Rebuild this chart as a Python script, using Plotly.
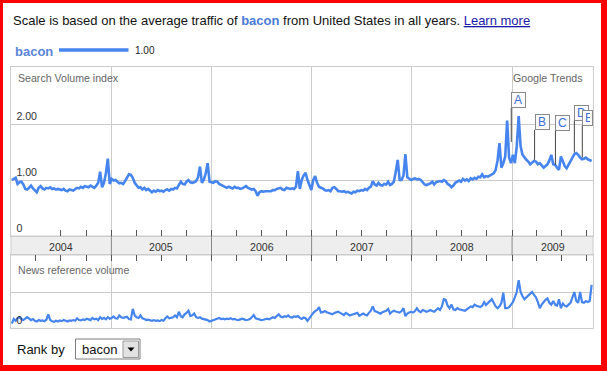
import plotly.graph_objects as go
import pandas as pd

# ---------------- data ----------------
term = "bacon"
legend_value = "1.00"
years = [2004, 2005, 2006, 2007, 2008, 2009]
axis_start = "2004-01-01"
axis_end = "2009-10-23"
first_week = "2004-01-04"

search_2004 = [1.00, 1.02, 1.04, 0.93, 0.96, 0.97, 0.92, 0.84, 0.83, 0.86, 0.90, 0.85, 0.82, 0.78,
               0.86, 0.89, 0.85, 0.83, 0.86, 0.85, 0.87, 0.84, 0.85, 0.83, 0.84, 0.83, 0.82, 0.84,
               0.81, 0.80, 0.83, 0.82, 0.81, 0.84, 0.86, 0.85, 0.88, 0.86, 0.89, 0.88, 0.87, 0.90,
               0.88, 0.86, 0.90, 0.95, 1.15, 0.87, 0.95, 1.12, 1.38, 0.93]
search_2005 = [1.02, 0.99, 1.00, 0.96, 0.94, 0.95, 0.93, 0.98, 1.05, 1.10, 1.09, 1.04, 0.95, 0.90,
               0.86, 0.87, 0.83, 0.86, 0.82, 0.84, 0.80, 0.78, 0.81, 0.79, 0.82, 0.80, 0.81, 0.79,
               0.82, 0.83, 0.81, 0.84, 0.83, 0.86, 0.85, 0.90, 0.97, 0.93, 0.92, 0.97, 1.00, 0.96,
               0.95, 0.96, 0.98, 1.05, 1.24, 0.95, 1.00, 1.12, 1.30, 0.97]
search_2006 = [0.96, 0.95, 0.98, 0.97, 0.93, 0.91, 0.89, 0.87, 0.86, 0.88, 0.87, 0.85, 0.88, 0.86,
               0.86, 0.84, 0.85, 0.87, 0.89, 0.86, 0.84, 0.83, 0.84, 0.80, 0.72, 0.78, 0.80, 0.79,
               0.80, 0.80, 0.81, 0.80, 0.82, 0.82, 0.84, 0.85, 0.86, 0.83, 0.82, 0.86, 0.85, 0.84,
               0.85, 0.84, 0.88, 1.16, 0.84, 1.00, 1.08, 1.13, 1.00, 0.90, 0.82]
search_2007 = [1.00, 1.07, 0.95, 0.88, 0.86, 0.85, 0.82, 0.81, 0.82, 0.80, 0.86, 0.87, 0.84, 0.80,
               0.80, 0.79, 0.80, 0.78, 0.79, 0.78, 0.76, 0.79, 0.78, 0.81, 0.80, 0.82, 0.81, 0.84,
               0.82, 0.86, 0.88, 0.98, 0.92, 0.90, 0.95, 0.91, 0.90, 0.93, 0.92, 0.97, 0.91, 0.93,
               0.97, 1.15, 1.36, 1.00, 1.00, 1.08, 1.46, 1.05, 1.02, 1.00]
search_2008 = [1.02, 1.03, 1.01, 1.02, 1.00, 0.95, 0.92, 0.91, 0.92, 0.94, 0.97, 0.92, 0.96, 0.97,
               0.98, 0.97, 1.00, 0.98, 0.93, 0.91, 0.87, 0.90, 0.95, 0.97, 0.99, 0.97, 1.02, 0.99,
               1.01, 0.98, 1.03, 1.01, 1.04, 1.02, 1.06, 1.05, 1.10, 1.05, 1.07, 1.06, 1.08, 1.10,
               1.12, 1.18, 1.35, 1.66, 1.22, 1.30, 1.42, 2.06, 1.40, 1.30]
search_2009 = [1.45, 1.30, 1.60, 2.14, 1.60, 1.45, 1.40, 1.36, 1.33, 1.28, 1.31, 1.34, 1.33, 1.28,
               1.30, 1.26, 1.22, 1.25, 1.28, 1.35, 1.45, 1.28, 1.27, 1.22, 1.18, 1.42, 1.33, 1.25,
               1.21, 1.28, 1.33, 1.40, 1.46, 1.48, 1.45, 1.40, 1.37, 1.38, 1.40, 1.37, 1.36, 1.34]

news_2004 = [0.12, 0.25, 0.20, 0.28, 0.30, 0.24, 0.22, 0.27, 0.30, 0.26, 0.22, 0.25, 0.20, 0.18,
             0.22, 0.20, 0.21, 0.19, 0.23, 0.38, 0.22, 0.19, 0.17, 0.20, 0.18, 0.21, 0.19, 0.22,
             0.20, 0.18, 0.21, 0.20, 0.22, 0.20, 0.27, 0.22, 0.21, 0.24, 0.22, 0.26, 0.24, 0.22,
             0.28, 0.24, 0.26, 0.22, 0.30, 0.25, 0.28, 0.24, 0.30, 0.26]
news_2005 = [0.28, 0.32, 0.27, 0.26, 0.35, 0.30, 0.28, 0.30, 0.31, 0.25, 0.24, 0.53, 0.35, 0.30,
             0.28, 0.35, 0.27, 0.25, 0.22, 0.23, 0.21, 0.20, 0.22, 0.20, 0.21, 0.19, 0.22, 0.20,
             0.27, 0.32, 0.27, 0.28, 0.30, 0.35, 0.30, 0.45, 0.33, 0.30, 0.38, 0.42, 0.48, 0.33,
             0.35, 0.40, 0.30, 0.28, 0.30, 0.26, 0.25, 0.23, 0.22, 0.18]
news_2006 = [0.20, 0.24, 0.25, 0.27, 0.28, 0.25, 0.26, 0.24, 0.26, 0.25, 0.27, 0.24, 0.25, 0.23,
             0.22, 0.24, 0.26, 0.24, 0.22, 0.23, 0.25, 0.30, 0.36, 0.27, 0.25, 0.23, 0.22, 0.23,
             0.24, 0.26, 0.24, 0.27, 0.30, 0.28, 0.33, 0.38, 0.32, 0.30, 0.33, 0.31, 0.35, 0.30,
             0.29, 0.32, 0.31, 0.33, 0.28, 0.25, 0.29, 0.27, 0.20, 0.28, 0.33]
news_2007 = [0.42, 0.47, 0.50, 0.58, 0.43, 0.44, 0.47, 0.44, 0.42, 0.40, 0.38, 0.42, 0.44, 0.45,
             0.42, 0.38, 0.36, 0.42, 0.38, 0.35, 0.37, 0.39, 0.41, 0.42, 0.34, 0.37, 0.40, 0.37,
             0.35, 0.42, 0.48, 0.60, 0.47, 0.45, 0.42, 0.40, 0.44, 0.46, 0.48, 0.53, 0.40, 0.45,
             0.48, 0.46, 0.45, 0.43, 0.47, 0.55, 0.33, 0.40, 0.43, 0.45]
news_2008 = [0.43, 0.47, 0.55, 0.47, 0.44, 0.50, 0.48, 0.45, 0.47, 0.50, 0.47, 0.45, 0.50, 0.55,
             0.50, 0.60, 0.80, 0.78, 0.62, 0.55, 0.65, 0.52, 0.50, 0.55, 0.52, 0.50, 0.49, 0.48,
             0.52, 0.56, 0.60, 0.58, 0.65, 0.62, 0.60, 0.58, 0.62, 0.72, 0.64, 0.70, 0.75, 0.80,
             0.70, 0.60, 0.55, 0.60, 0.70, 0.98, 0.55, 0.55, 0.58, 0.65]
news_2009 = [0.72, 0.85, 1.00, 1.33, 1.00, 0.88, 0.80, 0.85, 0.90, 0.95, 1.00, 0.92, 0.85, 0.72,
             0.55, 0.65, 0.72, 0.78, 0.82, 0.70, 0.65, 0.75, 0.65, 0.62, 0.80, 0.55, 0.68, 0.62,
             0.60, 0.65, 0.70, 0.85, 1.00, 0.75, 0.70, 1.00, 0.72, 0.70, 0.75, 0.72, 0.75, 1.20]

event_labels = ["A", "B", "C", "D", "E"]
event_dates = ["2008-12-29", "2009-03-24", "2009-06-08", "2009-08-16", "2009-09-14"]
event_values = [1.68, 1.36, 1.27, 1.49, 1.40]

main_tick_vals = [0, 1, 2]
main_tick_text = ["0", "1.00", "2.00"]
news_tick_vals = [0, 1]
news_tick_text = ["0", ""]

search = search_2004 + search_2005 + search_2006 + search_2007 + search_2008 + search_2009
news = news_2004 + news_2005 + news_2006 + news_2007 + news_2008 + news_2009
search_dates = pd.date_range(first_week, periods=len(search), freq="7D")
news_dates = pd.date_range(first_week, periods=len(news), freq="7D")

# ---------------- layout helpers ----------------
W, H = 607, 371
def xp(px):
    return px / W
def yp(py):
    return 1 - py / H

BLUE = "#4684ee"
FONT = "Arial, Liberation Sans, sans-serif"
PL, PR = 11, 593
MAIN_TOP, MAIN_BOT = 67, 236
BAND_BOT = 255
NEWS_BOT = 328

fig = go.Figure()
fig.add_trace(go.Scatter(x=search_dates, y=search, mode="lines", name=term,
                         line=dict(color=BLUE, width=2.6), xaxis="x", yaxis="y",
                         hoverinfo="skip", showlegend=False))
fig.add_trace(go.Scatter(x=news_dates, y=news, mode="lines", name=term,
                         line=dict(color=BLUE, width=2.2), xaxis="x2", yaxis="y2",
                         hoverinfo="skip", showlegend=False))

common_x = dict(range=[axis_start, axis_end], type="date", showgrid=True,
                gridcolor="#cccccc", gridwidth=1, dtick="M12", tick0=axis_start,
                ticks="inside", ticklen=6, tickcolor="#555555", tickwidth=1,
                showticklabels=False, showline=True, linecolor="#cccccc",
                mirror=True, zeroline=False,
                minor=dict(dtick="M3", tick0=axis_start, ticks="inside", ticklen=6,
                           tickcolor="#555555", tickwidth=1, showgrid=False),
                domain=[xp(PL), xp(PR)], fixedrange=True)

main_range_top = (MAIN_BOT - MAIN_TOP) / 56.0
news_range_top = (NEWS_BOT - BAND_BOT) / 36.0

fig.update_layout(
    width=W, height=H, margin=dict(l=0, r=0, t=0, b=0),
    paper_bgcolor="white", plot_bgcolor="white", showlegend=False,
    font=dict(family=FONT),
    xaxis=dict(common_x, anchor="y"),
    xaxis2=dict(common_x, anchor="y2", side="top"),
    yaxis=dict(domain=[yp(MAIN_BOT), yp(MAIN_TOP)], range=[0, main_range_top],
               tickvals=main_tick_vals, ticktext=main_tick_text,
               ticklabelposition="inside top", ticklabelstandoff=4, ticks="", showgrid=True,
               gridcolor="#cccccc", zeroline=False, showline=True,
               linecolor="#cccccc", mirror=True, anchor="x",
               tickfont=dict(size=10.6, color="#333333", family=FONT), fixedrange=True),
    yaxis2=dict(domain=[yp(NEWS_BOT), yp(BAND_BOT)], range=[0, news_range_top],
                tickvals=news_tick_vals, ticktext=news_tick_text,
                ticklabelposition="inside top", ticklabelstandoff=4, ticks="", showgrid=True,
                gridcolor="#cccccc", zeroline=False, showline=True,
                linecolor="#cccccc", mirror=True, anchor="x2",
                tickfont=dict(size=10.6, color="#333333", family=FONT), fixedrange=True),
)

shapes = []
# year band
shapes.append(dict(type="rect", xref="paper", yref="paper", x0=xp(PL), x1=xp(PR),
                   y0=yp(BAND_BOT), y1=yp(MAIN_BOT), fillcolor="#eeeeee",
                   line=dict(color="#cccccc", width=1), layer="below"))
for yr in years[1:]:
    shapes.append(dict(type="line", xref="x", yref="paper", x0=f"{yr}-01-01", x1=f"{yr}-01-01",
                       y0=yp(BAND_BOT), y1=yp(MAIN_BOT), line=dict(color="#888888", width=1)))
# legend line
shapes.append(dict(type="line", xref="paper", yref="paper", x0=xp(59), x1=xp(128.5),
                   y0=yp(50), y1=yp(50), line=dict(color=BLUE, width=3.5)))
# dropdown
shapes.append(dict(type="rect", xref="paper", yref="paper", x0=xp(75.5), x1=xp(140),
                   y0=yp(359), y1=yp(339), fillcolor="white", line=dict(color="#7f7f7f", width=1)))
shapes.append(dict(type="rect", xref="paper", yref="paper", x0=xp(123), x1=xp(138.5),
                   y0=yp(357.5), y1=yp(341), fillcolor="#e2e2e2", line=dict(color="#999999", width=1)))
shapes.append(dict(type="path", xref="paper", yref="paper",
                   path=f"M {xp(127.5)} {yp(347.5)} L {xp(134.5)} {yp(347.5)} L {xp(131)} {yp(351.5)} Z",
                   fillcolor="black", line=dict(color="black", width=0)))
# red frame
for (x0, x1, y0, y1) in [(0, 3, 0, H), (601, W, 0, H), (0, W, 0, 3), (0, W, 365, H)]:
    shapes.append(dict(type="rect", xref="paper", yref="paper", x0=xp(x0), x1=xp(x1),
                       y0=yp(y1), y1=yp(y0), fillcolor="#ff0000", line=dict(width=0), layer="above"))
fig.update_layout(shapes=shapes)

ann = []
ann.append(dict(xref="paper", yref="paper", x=xp(11), y=yp(21), xanchor="left", yanchor="middle",
                showarrow=False, font=dict(size=13, color="#111111", family=FONT),
                text=(f"Scale is based on the average traffic of <b><span style='color:#4a7bd8'>{term}</span></b>"
                      f" from United States in all years. "
                      f"<span style='color:#1a1aa8;text-decoration:underline'>Learn more</span>")))
ann.append(dict(xref="paper", yref="paper", x=xp(13), y=yp(51), xanchor="left", yanchor="middle",
                showarrow=False, text=f"<b>{term}</b>", font=dict(size=13, color="#5a86d6", family=FONT)))
ann.append(dict(xref="paper", yref="paper", x=xp(133), y=yp(50), xanchor="left", yanchor="middle",
                showarrow=False, text=legend_value, font=dict(size=10, color="#222222", family=FONT)))
ann.append(dict(xref="paper", yref="paper", x=xp(16), y=yp(78), xanchor="left", yanchor="middle",
                showarrow=False, text="Search Volume index", font=dict(size=10.6, color="#666666", family=FONT)))
ann.append(dict(xref="paper", yref="paper", x=xp(585), y=yp(78), xanchor="right", yanchor="middle",
                showarrow=False, text="Google Trends", font=dict(size=10.6, color="#666666", family=FONT)))
ann.append(dict(xref="paper", yref="paper", x=xp(16), y=yp(270), xanchor="left", yanchor="middle",
                showarrow=False, text="News reference volume", font=dict(size=10.6, color="#666666", family=FONT)))
# year labels centred on visible portion of each year
t0, t1 = pd.Timestamp(axis_start), pd.Timestamp(axis_end)
for yr in years:
    a = max(pd.Timestamp(f"{yr}-01-01"), t0)
    b = min(pd.Timestamp(f"{yr + 1}-01-01"), t1)
    mid = a + (b - a) / 2
    ann.append(dict(xref="x", yref="paper", x=mid, y=yp(246.5), xanchor="center", yanchor="middle",
                    showarrow=False, text=str(yr), font=dict(size=10.6, color="#333333", family=FONT)))
# event flags
pole_px = [34, 30, 34, 32, 32]
box_w = [9, 9, 9, 9, 5]
for lab, d, v, pl, bw in zip(event_labels, event_dates, event_values, pole_px, box_w):
    ann.append(dict(xref="x", yref="y", x=d, y=v, ax=0, ay=-pl, axref="pixel", ayref="pixel",
                    showarrow=True, arrowhead=0, arrowwidth=1, arrowcolor="#444444", standoff=0,
                    xanchor="left", yanchor="bottom", text=lab, align="left",
                    width=bw, height=10, borderpad=2, borderwidth=1, bordercolor="#8a8a8a",
                    bgcolor="#fbfbfb", font=dict(size=12, color="#3b6fd6", family=FONT)))
# rank by
ann.append(dict(xref="paper", yref="paper", x=xp(15), y=yp(349.5), xanchor="left", yanchor="middle",
                showarrow=False, text="Rank by", font=dict(size=13, color="#111111", family=FONT)))
ann.append(dict(xref="paper", yref="paper", x=xp(80), y=yp(349.5), xanchor="left", yanchor="middle",
                showarrow=False, text=term, font=dict(size=13, color="#111111", family=FONT)))
fig.update_layout(annotations=ann)

fig.write_html("out.html", config={"displayModeBar": False},
               post_script="document.body.style.margin='0';")
